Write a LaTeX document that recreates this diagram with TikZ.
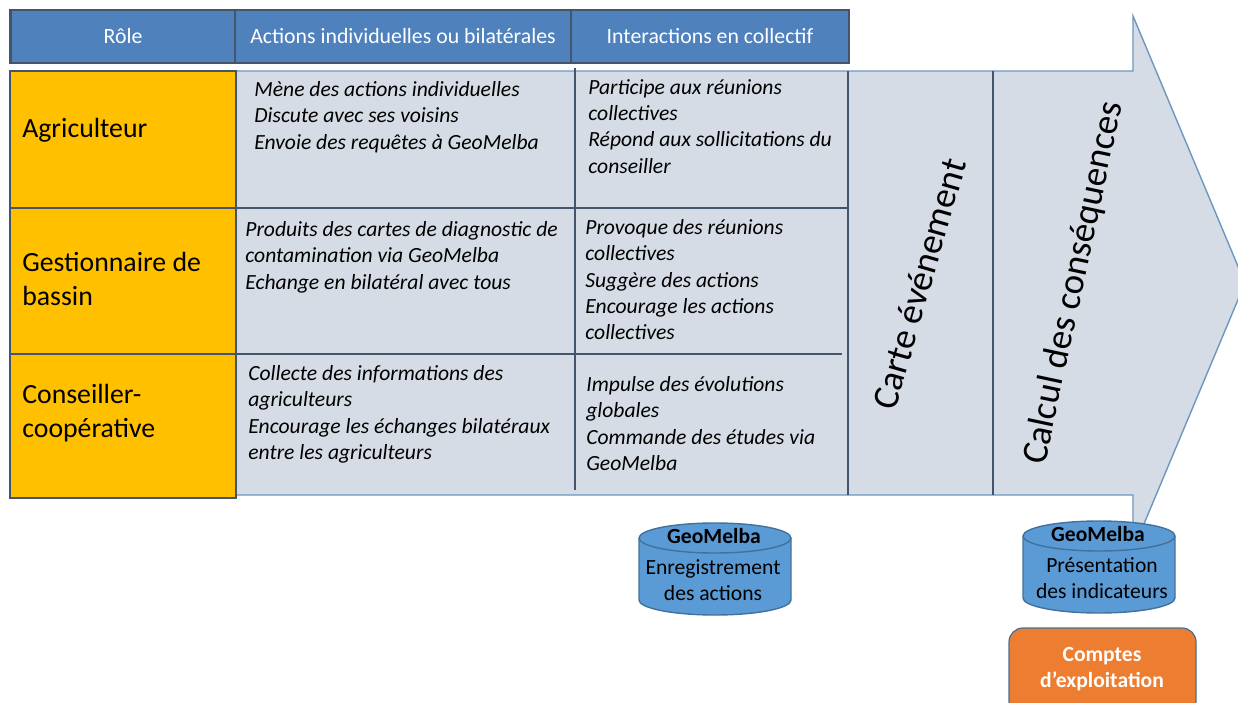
\documentclass[tikz,border=0pt]{standalone}
\usepackage{fontspec}
\setmainfont{Carlito}
\definecolor{headblue}{HTML}{4F81BD}
\definecolor{rolegold}{HTML}{FFC000}
\definecolor{bodygrey}{HTML}{D6DCE5}
\definecolor{gridline}{HTML}{44546A}
\definecolor{arrowline}{HTML}{6C97BF}
\definecolor{dbblue}{HTML}{5B9BD5}
\definecolor{dbline}{HTML}{41719C}
\definecolor{orangebox}{HTML}{ED7D31}
\tikzset{
  headcell/.style={draw=gridline, line width=1.3pt, fill=headblue, text=white, minimum height=.02cm*53, inner sep=0pt, font=\fontsize{12.4}{14}\selectfont},
  rolecell/.style={draw=gridline, line width=1.6pt, fill=rolegold},
  roletext/.style={anchor=west, align=left, inner sep=0pt, font=\fontsize{15.8}{19}\selectfont},
  celltext/.style={anchor=north west, align=left, inner sep=0pt, font=\fontsize{12.3}{15}\selectfont\itshape},
  gridrule/.style={draw=gridline, line width=1.6pt},
  slanted/.style={inner sep=0pt, font=\fontsize{21}{24}\selectfont},
  dbdrum/.style={draw=dbline, fill=dbblue, line width=.8pt},
  dbtext/.style={align=center, inner sep=0pt, font=\fontsize{12.3}{15}\selectfont},
}
% drum: centre x, top y
\newcommand{\drawdrum}[2]{
  \draw[dbdrum] (#1-76,#2+15) arc[start angle=180, end angle=360, x radius=76, y radius=15]--++(0,62)
    arc[start angle=0, end angle=180, x radius=76, y radius=15]--cycle;
  \draw[dbline, line width=.8pt] (#1-76,#2+15) arc[start angle=180, end angle=0, x radius=76, y radius=15];
}
\begin{document}
\begin{tikzpicture}[x=.02cm, y=-.02cm]
\useasboundingbox (0,0) rectangle (1238,703);
\clip (0,0) rectangle (1238,703);
% big arrow behind the table
\draw[arrowline, line width=.8pt, fill=bodygrey] (10,71)--(1133,71)--(1133,16)--(1245,283)--(1133,550)--(1133,495)--(10,495)--cycle;
% header
\node[headcell, minimum width=.02cm*225] (role) at (123,36.5) {Rôle};
\node[headcell, minimum width=.02cm*336] (actions) at (403,36.5) {Actions individuelles ou bilatérales};
\node[headcell, minimum width=.02cm*278] (collectif) at (710,36.5) {Interactions en collectif};
% role column
\draw[rolecell] (10,71) rectangle (236,208);
\draw[rolecell] (10,208) rectangle (236,354);
\draw[rolecell] (10,354) rectangle (236,498);
\node[roletext] (agri) at (22,130) {Agriculteur};
\node[roletext] (gest) at (22,279) {Gestionnaire de\\bassin};
\node[roletext] (cons) at (22,413) {Conseiller-\\coopérative};
% grid
\draw[gridrule] (236,208)--(848,208);
\draw[gridrule] (236,354)--(842,354);
\draw[gridrule] (575,68)--(575,490);
\draw[gridrule] (848,71)--(848,495);
\draw[gridrule] (993,71)--(993,495);
% cells
\node[celltext] (a1) at (254,81) {Mène des actions individuelles\\Discute avec ses voisins\\Envoie des requêtes à GeoMelba};
\node[celltext] (a2) at (245,221) {Produits des cartes de diagnostic de\\contamination via GeoMelba\\Echange en bilatéral avec tous};
\node[celltext] (a3) at (248,365) {Collecte des informations des\\agriculteurs\\Encourage les échanges bilatéraux\\entre les agriculteurs};
\node[celltext] (c1) at (588,79) {Participe aux réunions\\collectives\\Répond aux sollicitations du\\conseiller};
\node[celltext] (c2) at (585,219) {Provoque des réunions\\collectives\\Suggère des actions\\Encourage les actions\\collectives};
\node[celltext] (c3) at (586,376) {Impulse des évolutions\\globales\\Commande des études via\\GeoMelba};
% slanted titles
\node[slanted, rotate=74] (carte) at (919,284) {Carte événement};
\node[slanted, rotate=78] (calcul) at (1074,283) {Calcul des conséquences};
% databases
\drawdrum{715}{523}
\drawdrum{1099}{521}
\node[dbtext, font=\fontsize{12.3}{15}\selectfont\bfseries] (geoA) at (714,536) {GeoMelba};
\node[dbtext] (txtA) at (713,580) {Enregistrement\\des actions};
\node[dbtext, font=\fontsize{12.3}{15}\selectfont\bfseries] (geoB) at (1098,534) {GeoMelba};
\node[dbtext] (txtB) at (1102,578) {Présentation\\des indicateurs};
% results box
\draw[dbline, line width=.7pt, fill=orangebox, rounded corners=.28cm] (1009,628) rectangle (1196,715);
\node[dbtext, text=white, font=\fontsize{12.3}{15}\selectfont\bfseries] (comptes) at (1102,669) {Comptes\\d’exploitation};
\end{tikzpicture}
\end{document}
